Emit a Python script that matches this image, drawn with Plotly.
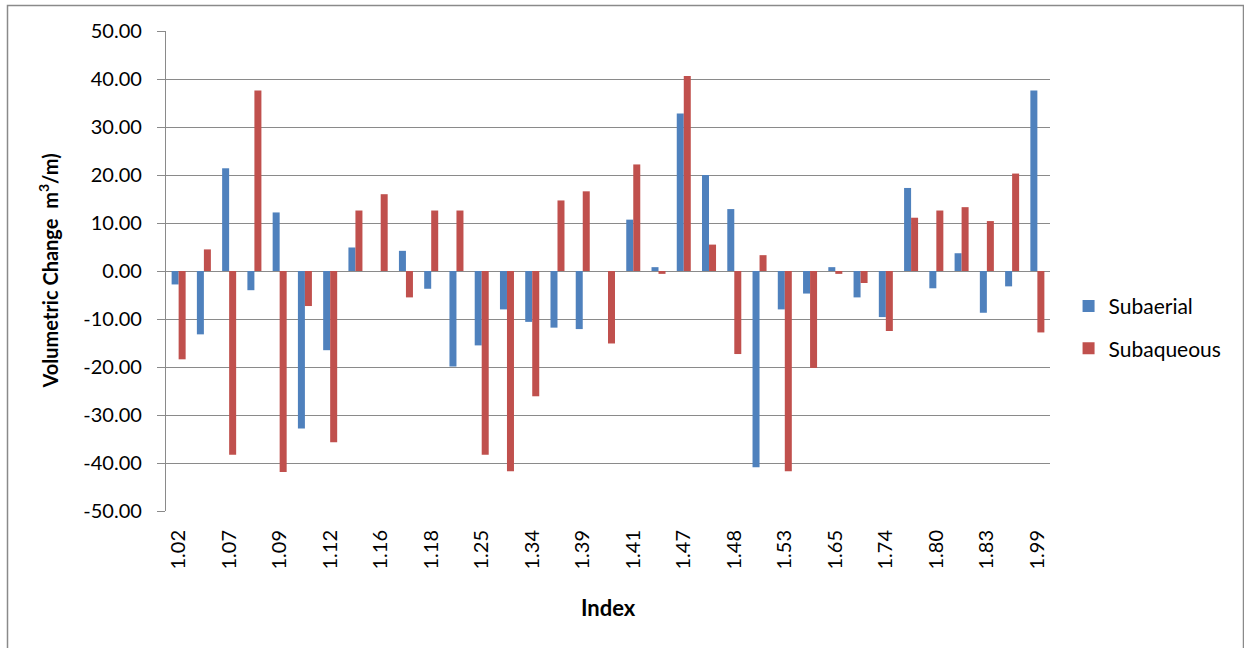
import plotly.graph_objects as go

labels = ["1.02", "1.05", "1.07", "1.08", "1.09", "1.11", "1.12", "1.14", "1.16", "1.17",
          "1.18", "1.21", "1.25", "1.30", "1.34", "1.37", "1.39", "1.40", "1.41", "1.45",
          "1.47", "1.47b", "1.48", "1.50", "1.53", "1.60", "1.65", "1.70", "1.74", "1.78",
          "1.80", "1.82", "1.83", "1.90", "1.99"]

subaerial = [-2.8, -13.2, 21.4, -4.0, 12.2, -32.8, -16.5, 4.9, 0.0, 4.2,
             -3.7, -19.9, -15.5, -8.0, -10.6, -11.8, -12.1, 0.0, 10.7, 0.8,
             32.8, 20.0, 12.9, -40.9, -8.0, -4.7, 0.8, -5.5, -9.6, 17.3,
             -3.6, 3.7, -8.7, -3.2, 37.6]

subaqueous = [-18.4, 4.5, -38.3, 37.6, -41.9, -7.3, -35.7, 12.6, 16.0, -5.5,
              12.6, 12.6, -38.3, -41.7, -26.1, 14.7, 16.6, -15.1, 22.2, -0.6,
              40.6, 5.5, -17.3, 3.3, -41.7, -20.2, -0.6, -2.5, -12.5, 11.1,
              12.6, 13.3, 10.4, 20.3, -12.8]

y_ticks = [-50, -40, -30, -20, -10, 0, 10, 20, 30, 40, 50]

idx = list(range(len(labels)))
tick_idx = idx[::2]
tick_text = [labels[i] for i in tick_idx]
y_tick_text = [f"{v:.2f}" for v in y_ticks]

FONT = "Lato"
GRID = "#8a8a8a"

fig = go.Figure()
fig.add_trace(go.Bar(x=idx, y=subaerial, name="Subaerial", marker_color="#4F81BD",
                     marker_line_width=0, legendgroup="a"))
fig.add_trace(go.Bar(x=idx, y=subaqueous, name="Subaqueous", marker_color="#C0504D",
                     marker_line_width=0, legendgroup="b"))

fig.update_layout(
    width=1244, height=648,
    margin=dict(l=166, r=194, t=31, b=137, autoexpand=False),
    paper_bgcolor="white", plot_bgcolor="white",
    barmode="group", bargap=0.445, bargroupgap=0,
    font=dict(family=FONT, size=20, color="#000000"),
    showlegend=True,
    legend=dict(x=1.021, y=0.469, xanchor="left", yanchor="top",
                font=dict(family=FONT, size=21), tracegroupgap=12,
                bgcolor="rgba(0,0,0,0)", itemclick=False),
    xaxis=dict(range=[-0.5, len(labels) - 0.5], tickmode="array",
               tickvals=tick_idx, ticktext=tick_text, tickangle=-90,
               showgrid=False, zeroline=False, showline=False, ticks="",
               ticklabelstandoff=14, tickfont=dict(family=FONT, size=20)),
    yaxis=dict(range=[-50, 50], tickmode="array",
               tickvals=y_ticks, ticktext=y_tick_text,
               showgrid=True, gridcolor=GRID, gridwidth=1.3,
               zeroline=True, zerolinecolor=GRID, zerolinewidth=1.3,
               showline=True, linecolor=GRID, linewidth=1.3,
               ticks="outside", ticklen=8, tickcolor=GRID, tickwidth=1.3,
               ticklabelstandoff=11, tickfont=dict(family=FONT, size=20)),
)

fig.add_annotation(text="<b>Volumetric Change  m<sup>3</sup>/m)</b>", textangle=-90,
                   xref="paper", yref="paper", x=-0.133, y=0.5,
                   xanchor="center", yanchor="middle", showarrow=False,
                   font=dict(family=FONT, size=20))
fig.add_annotation(text="<b>Index</b>", xref="paper", yref="paper",
                   x=0.5, y=-0.202, xanchor="center", yanchor="middle",
                   showarrow=False, font=dict(family=FONT, size=22))

fig.add_shape(type="rect", xref="paper", yref="paper",
              x0=(7.5 - 166) / 884, x1=(1243.5 - 166) / 884,
              y0=(511 - 660) / 480, y1=(511 - 5.5) / 480,
              line=dict(color="#8a8a8a", width=1.5), fillcolor="rgba(0,0,0,0)",
              layer="below")

fig.write_html("out.html", config={"displayModeBar": False},
               post_script="document.body.style.margin='0';")
